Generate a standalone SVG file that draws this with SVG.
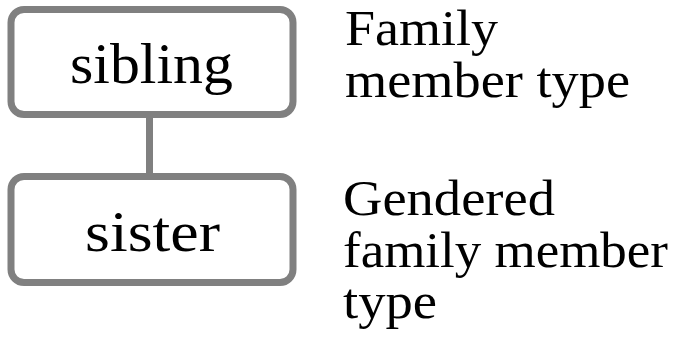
<svg xmlns="http://www.w3.org/2000/svg" width="682" height="337" viewBox="0 0 682 337">
<style>
.box{fill:#ffffff;stroke:#808080;stroke-width:7}
.edge{stroke:#808080;stroke-width:7;fill:none}
.lbl{font-family:"Liberation Serif","Times New Roman",serif;fill:#000000}
.node{font-size:57px;text-anchor:middle}
.note{font-size:50px}
</style>
<rect width="682" height="337" fill="#ffffff"/>
<g id="connectors">
<line class="edge" x1="149.5" y1="116" x2="149.5" y2="176"/>
</g>
<g id="sibling">
<rect class="box" x="11" y="9.5" width="282" height="105" rx="13" ry="13"/>
<text class="lbl node" x="151.5" y="83" textLength="163" lengthAdjust="spacingAndGlyphs">sibling</text>
</g>
<g id="sister">
<rect class="box" x="11" y="176.5" width="282" height="106" rx="13" ry="13"/>
<text class="lbl node" x="152.5" y="251" textLength="135" lengthAdjust="spacingAndGlyphs">sister</text>
</g>
<g id="note-sibling">
<text class="lbl note" x="345" y="45" textLength="153" lengthAdjust="spacingAndGlyphs">Family</text>
<text class="lbl note" x="345" y="97" textLength="285" lengthAdjust="spacingAndGlyphs">member type</text>
</g>
<g id="note-sister">
<text class="lbl note" x="343" y="215" textLength="212" lengthAdjust="spacingAndGlyphs">Gendered</text>
<text class="lbl note" x="343" y="267" textLength="325" lengthAdjust="spacingAndGlyphs">family member</text>
<text class="lbl note" x="343" y="318" textLength="94" lengthAdjust="spacingAndGlyphs">type</text>
</g>
</svg>
